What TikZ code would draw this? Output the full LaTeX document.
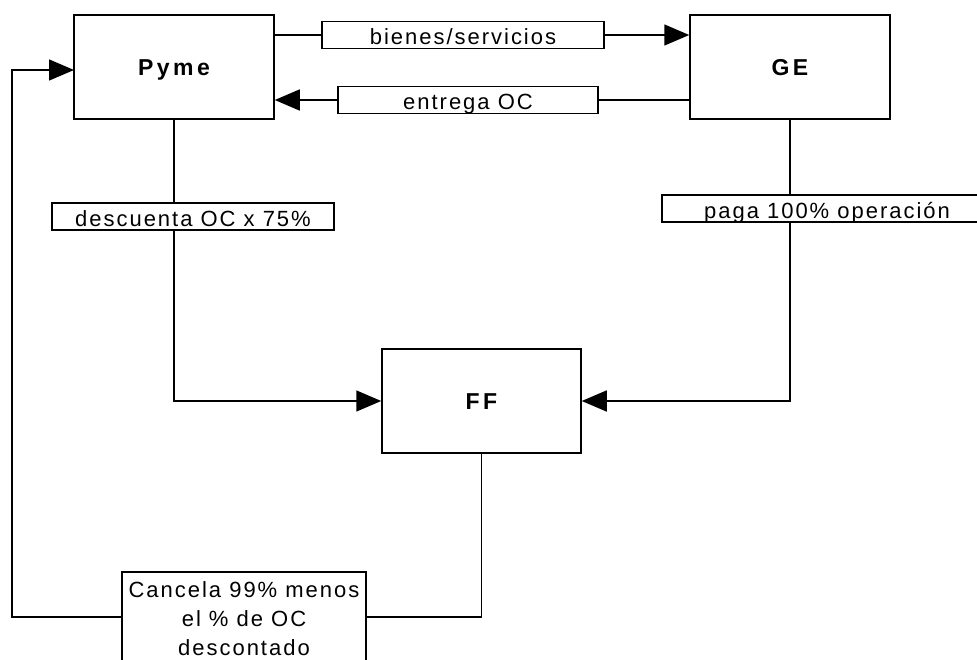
\documentclass[tikz,border=0pt]{standalone}
\usepackage{fontspec}
\setmainfont{Liberation Sans}
\newfontfamily\lblfont[LetterSpace=9]{Liberation Sans}
\newfontfamily\ttlfont[LetterSpace=15]{Liberation Sans}
\usetikzlibrary{arrows.meta}
\begin{document}
\begin{tikzpicture}[x=1pt,y=1pt,
  every path/.style={line width=1.5pt},
  entity/.style={draw, line width=1.5pt, minimum width=200pt, minimum height=104pt, inner sep=0pt,
    font=\ttlfont\bfseries\fontsize{23pt}{27pt}\selectfont, text height=16.5pt, text depth=0pt},
  lbl/.style={draw, fill=white, line width=1.5pt, inner xsep=0pt, inner ysep=0pt,
    font=\lblfont\fontsize{22pt}{29pt}\selectfont, text height=23.5pt, text depth=3.5pt},
  arr/.style={-{Triangle[length=25pt,width=21pt]}}]
\useasboundingbox (0,0) rectangle (977,-660);
% entities
\node[entity] (pyme) at (174,-67) {Pyme};
\node[entity] (ge) at (790,-67) {GE};
\node[entity, minimum width=199pt] (ff) at (481.5,-401) {FF};
% labels
\node[lbl, minimum width=282pt] (bien) at (463,-35) {bienes/servicios};
\node[lbl, minimum width=260pt] (entr) at (468,-100) {entrega OC};
\node[lbl, minimum width=282pt] (desc) at (193,-216.5) {descuenta OC x 75\%};
\node[lbl, minimum width=330pt] (paga) at (827,-208.5) {paga 100\% operación};
\node[draw, line width=1.5pt, anchor=north, minimum width=244pt, inner xsep=0pt, inner ysep=10pt,
  align=center, font=\lblfont\fontsize{22pt}{29pt}\selectfont] (canc) at (244,-571)
  {Cancela 99\% menos\\el \% de OC\\descontado};
% coordinates
\coordinate (loopL) at (12,-617);
\coordinate (loopT) at (12,-70);
\coordinate (pymeIn) at (74,-70);
% connectors
\draw (bien.west -| pyme.east) -- (bien.west);
\draw[arr] (bien.east) -- (bien.east -| ge.west);
\draw (entr.east -| ge.west) -- (entr.east);
\draw[arr] (entr.west) -- (entr.west -| pyme.east);
\draw (pyme.south) -- (pyme.south |- desc.north);
\draw[arr] (pyme.south |- desc.south) |- (ff.west);
\draw (ge.south) -- (ge.south |- paga.north);
\draw[arr] (ge.south |- paga.south) |- (ff.east);
\draw (ff.south) |- (canc.east |- loopL);
\draw[arr] (canc.west |- loopL) -- (loopL) -- (loopT) -- (pymeIn);
\end{tikzpicture}
\end{document}
